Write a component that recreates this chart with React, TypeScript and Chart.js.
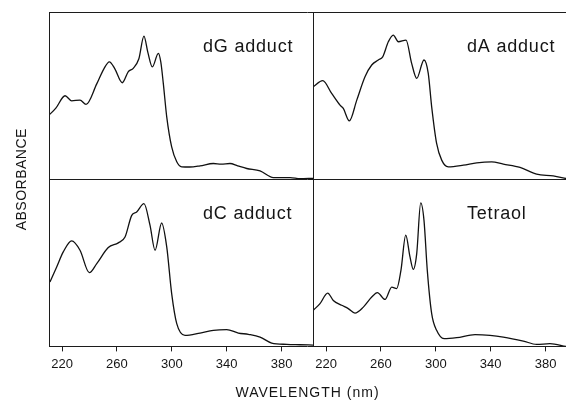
import { useEffect, useRef } from "react";
import { Chart, registerables } from "chart.js";

Chart.register(...registerables);

const wavelengthTicks = [220, 260, 300, 340, 380];
const panelLabels = ["dG adduct", "dA adduct", "dC adduct", "Tetraol"];
const xTitle = "WAVELENGTH (nm)";
const yTitle = "ABSORBANCE";

const dGnm = [210.5, 215.5, 222.2, 227.0, 233.1, 237.5, 245.3, 250.5, 254.5, 258.5, 263.9, 268.3, 271.9, 276.0, 279.7, 282.5, 285.8, 290.2, 292.0, 293.8, 296.3, 299.9, 303.6, 307.2, 313.0, 320.6, 330.3, 336.0, 342.4, 348.0, 354.6, 364.3, 374.0, 386.2, 393.5, 402.9];
const dGabs = [38.3, 42.5, 49.9, 46.9, 47.3, 44.7, 57.0, 66.0, 70.2, 66.0, 57.7, 64.3, 66.3, 72.0, 85.6, 76.0, 67.2, 75.3, 70.0, 57.3, 37.3, 19.3, 10.4, 7.4, 7.3, 8.0, 9.4, 9.0, 9.4, 8.0, 6.4, 5.0, 1.0, 1.0, 0.3, 0.5];

const dAnm = [210.7, 217.6, 224.1, 230.2, 232.6, 237.0, 242.4, 248.4, 253.3, 258.1, 261.3, 265.4, 269.0, 272.7, 278.3, 282.4, 286.1, 291.4, 294.5, 297.0, 300.6, 304.3, 309.1, 320.1, 329.8, 340.7, 349.2, 361.4, 373.5, 385.6, 394.9];
const dAabs = [55.3, 58.9, 51.3, 44.3, 42.3, 34.9, 47.3, 61.3, 68.3, 71.3, 73.2, 82.2, 86.2, 82.2, 83.2, 69.3, 60.3, 71.3, 63.3, 43.3, 21.4, 11.4, 7.4, 8.4, 9.8, 10.4, 9.0, 7.0, 3.0, 2.0, 0.4];

const dCnm = [211.2, 216.1, 220.9, 227.0, 233.1, 239.9, 245.3, 253.7, 261.0, 265.9, 270.8, 274.4, 279.7, 284.1, 287.8, 292.6, 296.3, 299.9, 303.6, 309.6, 320.6, 330.3, 340.0, 348.5, 355.8, 364.3, 372.8, 383.8, 393.5, 402.9];
const dCabs = [38.5, 47.5, 56.5, 63.1, 57.5, 44.1, 49.5, 59.1, 61.9, 65.4, 78.4, 80.4, 85.4, 72.5, 57.5, 73.8, 59.5, 31.6, 13.6, 6.6, 8.0, 9.6, 10.0, 8.0, 7.2, 5.6, 2.0, 1.2, 1.0, 0.8];

const tetNm = [210.7, 215.6, 221.2, 225.3, 231.4, 236.2, 241.1, 247.2, 253.3, 257.4, 263.0, 267.9, 271.5, 274.6, 278.1, 281.2, 283.6, 286.1, 289.0, 291.4, 293.8, 297.0, 300.6, 306.0, 315.2, 328.6, 339.5, 349.2, 363.8, 373.5, 383.2, 394.9];
const tetAbs = [21.6, 25.6, 31.9, 27.5, 24.6, 22.6, 19.9, 23.5, 29.5, 32.2, 28.1, 35.5, 34.6, 45.5, 66.5, 53.5, 46.1, 55.5, 85.8, 75.4, 45.5, 19.6, 9.6, 4.6, 5.2, 7.0, 6.6, 5.6, 3.2, 1.2, 1.6, 0.0];

const leftRange = [210.5, 402.9];
const rightRange = [210.5, 394.9];

const toPoints = (xs: number[], ys: number[]) => xs.map((x, i) => ({ x, y: ys[i] }));

const framePlugin = {
  id: "frame",
  afterDraw(chart: any) {
    const { ctx, chartArea: ca, scales } = chart;
    const x2 = scales.x2;
    const y1 = scales.y1;
    const px = (v: number) => Math.round(v) + 0.5;
    ctx.save();
    ctx.strokeStyle = "#1c1c1c";
    ctx.lineWidth = 1;
    ctx.beginPath();
    ctx.moveTo(ca.left, px(ca.top));
    ctx.lineTo(ca.right, px(ca.top));
    ctx.moveTo(ca.left, px(y1.bottom));
    ctx.lineTo(ca.right, px(y1.bottom));
    ctx.moveTo(ca.left, px(ca.bottom));
    ctx.lineTo(ca.right, px(ca.bottom));
    ctx.moveTo(px(ca.left), ca.top);
    ctx.lineTo(px(ca.left), ca.bottom);
    ctx.moveTo(px(x2.left), ca.top);
    ctx.lineTo(px(x2.left), ca.bottom);
    ctx.stroke();

    ctx.fillStyle = "#151515";
    ctx.font = '18px "Liberation Sans", Arial, sans-serif';
    (ctx as any).letterSpacing = "0.8px";
    ctx.textAlign = "left";
    ctx.textBaseline = "alphabetic";
    chart.data.datasets.forEach((ds: any, i: number) => {
      const meta = chart.getDatasetMeta(i);
      ctx.fillText(ds.label, meta.xScale.left + 154, meta.yScale.top + 40);
    });

    ctx.font = '14px "Liberation Sans", Arial, sans-serif';
    (ctx as any).letterSpacing = "1px";
    ctx.textAlign = "center";
    ctx.textBaseline = "middle";
    ctx.fillText(xTitle, (ca.left + ca.right) / 2, 393);

    (ctx as any).letterSpacing = "0.5px";
    ctx.translate(22, (ca.top + ca.bottom) / 2);
    ctx.rotate(-Math.PI / 2);
    ctx.fillText(yTitle, 0, 0);
    ctx.restore();
  },
};

const xAxis = (range: number[], weight: number, stackWeight: number) => ({
  type: "linear" as const,
  position: "bottom" as const,
  stack: "x",
  stackWeight,
  weight,
  min: range[0],
  max: range[1],
  afterBuildTicks: (scale: any) => {
    scale.ticks = wavelengthTicks.map((v) => ({ value: v }));
  },
  afterFit: (scale: any) => {
    scale.paddingLeft = 0;
    scale.paddingRight = 0;
  },
  grid: {
    drawOnChartArea: false,
    drawTicks: true,
    tickLength: 5,
    color: "#1c1c1c",
    lineWidth: 1,
  },
  border: { display: false },
  ticks: {
    color: "#151515",
    font: { family: '"Liberation Sans", Arial, sans-serif', size: 13 },
    padding: 5,
    maxRotation: 0,
    autoSkip: false,
  },
});

const yAxis = (weight: number) => ({
  type: "linear" as const,
  position: "left" as const,
  stack: "y",
  stackWeight: 1,
  weight,
  min: 0,
  max: 100,
  display: false,
});

export default function App() {
  const ref = useRef<HTMLCanvasElement>(null);
  useEffect(() => {
    if (!ref.current) return;
    const line = {
      borderColor: "#111111",
      borderWidth: 1.3,
      pointRadius: 0,
      fill: false,
      tension: 0.4,
      cubicInterpolationMode: "monotone" as const,
    };
    const chart = new Chart(ref.current, {
      type: "line",
      data: {
        datasets: [
          { ...line, label: panelLabels[0], data: toPoints(dGnm, dGabs), xAxisID: "x1", yAxisID: "y1" },
          { ...line, label: panelLabels[1], data: toPoints(dAnm, dAabs), xAxisID: "x2", yAxisID: "y1" },
          { ...line, label: panelLabels[2], data: toPoints(dCnm, dCabs), xAxisID: "x1", yAxisID: "y2" },
          { ...line, label: panelLabels[3], data: toPoints(tetNm, tetAbs), xAxisID: "x2", yAxisID: "y2" },
        ],
      },
      options: {
        responsive: false,
        animation: false,
        layout: { padding: { left: 49, top: 12, right: 0, bottom: 23 } },
        plugins: { legend: { display: false }, tooltip: { enabled: false }, title: { display: false } },
        scales: {
          x1: xAxis(leftRange, 0, 264),
          x2: xAxis(rightRange, 1, 253),
          y1: yAxis(1),
          y2: yAxis(0),
        },
      },
      plugins: [framePlugin],
    });
    return () => chart.destroy();
  }, []);
  return (
    <div style={{ position: "absolute", left: 0, top: 0, width: 566, height: 400, background: "#fff" }}>
      <canvas ref={ref} width={566} height={400} style={{ display: "block" }} />
    </div>
  );
}
